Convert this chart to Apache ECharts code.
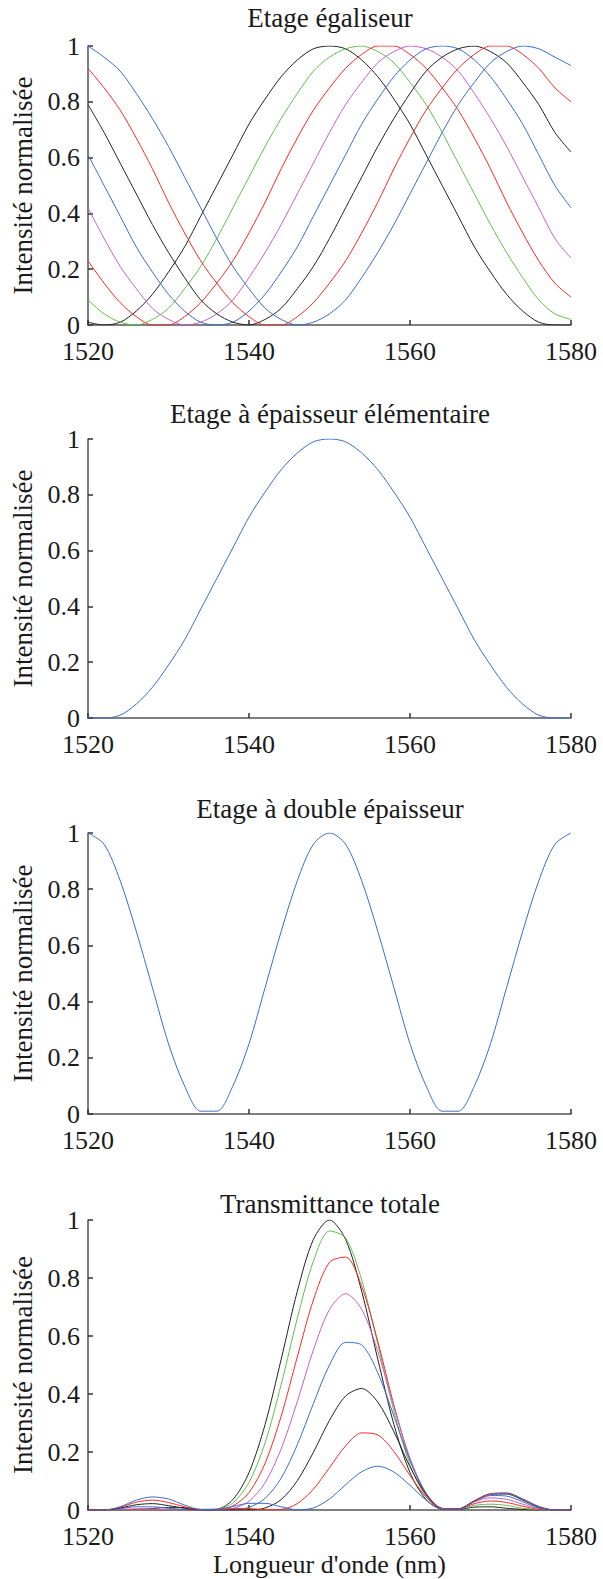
<!DOCTYPE html>
<html>
<head>
<meta charset="utf-8">
<script src="https://cdn.jsdelivr.net/npm/echarts@6.0.0/dist/echarts.min.js"></script>
<style>
  html, body { margin: 0; padding: 0; background: #ffffff; }
  #chart { width: 603px; height: 1579px; }
</style>
</head>
<body>
<div id="chart"></div>
<script>
// longueurs d'onde (nm), pas de 2 nm
const wavelength = [1520, 1522, 1524, 1526, 1528, 1530, 1532, 1534, 1536, 1538, 1540,
  1542, 1544, 1546, 1548, 1550, 1552, 1554, 1556, 1558, 1560,
  1562, 1564, 1566, 1568, 1570, 1572, 1574, 1576, 1578, 1580];

const titles = ['Etage égaliseur', 'Etage à épaisseur élémentaire', 'Etage à double épaisseur', 'Transmittance totale'];
const xTicks = [1520, 1540, 1560, 1580];
const yTicks = [0, 0.2, 0.4, 0.6, 0.8, 1];

// Etage égaliseur : 8 courbes
const egal1 = [0.01, 0.00, 0.01, 0.05, 0.11, 0.19, 0.28, 0.39, 0.50, 0.61, 0.72, 0.81, 0.89, 0.95, 0.99, 1.00, 0.99, 0.95, 0.89, 0.81, 0.72, 0.61, 0.50, 0.39, 0.28, 0.19, 0.11, 0.05, 0.01, 0.00, 0.00];
const egal2 = [0.09, 0.04, 0.01, 0.00, 0.02, 0.06, 0.13, 0.21, 0.31, 0.42, 0.53, 0.64, 0.74, 0.83, 0.91, 0.96, 0.99, 1.00, 0.98, 0.94, 0.87, 0.79, 0.69, 0.58, 0.47, 0.36, 0.26, 0.17, 0.09, 0.04, 0.02];
const egal3 = [0.23, 0.15, 0.08, 0.03, 0.00, 0.00, 0.03, 0.08, 0.15, 0.23, 0.33, 0.44, 0.56, 0.67, 0.77, 0.85, 0.92, 0.97, 1.00, 1.00, 0.97, 0.92, 0.85, 0.77, 0.67, 0.56, 0.44, 0.33, 0.23, 0.15, 0.10];
const egal4 = [0.42, 0.31, 0.21, 0.13, 0.06, 0.02, 0.00, 0.01, 0.04, 0.09, 0.17, 0.26, 0.36, 0.47, 0.58, 0.69, 0.79, 0.87, 0.94, 0.98, 1.00, 0.99, 0.96, 0.91, 0.83, 0.74, 0.64, 0.53, 0.42, 0.31, 0.24];
const egal5 = [0.61, 0.50, 0.39, 0.28, 0.19, 0.11, 0.05, 0.01, 0.00, 0.01, 0.05, 0.11, 0.19, 0.28, 0.39, 0.50, 0.61, 0.72, 0.81, 0.89, 0.95, 0.99, 1.00, 0.99, 0.95, 0.89, 0.81, 0.72, 0.61, 0.50, 0.42];
const egal6 = [0.79, 0.69, 0.58, 0.47, 0.36, 0.26, 0.17, 0.09, 0.04, 0.01, 0.00, 0.02, 0.06, 0.13, 0.21, 0.31, 0.42, 0.53, 0.64, 0.74, 0.83, 0.91, 0.96, 0.99, 1.00, 0.98, 0.94, 0.87, 0.79, 0.69, 0.62];
const egal7 = [0.92, 0.85, 0.77, 0.67, 0.56, 0.44, 0.33, 0.23, 0.15, 0.08, 0.03, 0.00, 0.00, 0.03, 0.08, 0.15, 0.23, 0.33, 0.44, 0.56, 0.67, 0.77, 0.85, 0.92, 0.97, 1.00, 1.00, 0.97, 0.92, 0.85, 0.80];
const egal8 = [1.00, 0.96, 0.91, 0.83, 0.74, 0.64, 0.53, 0.42, 0.31, 0.21, 0.13, 0.06, 0.02, 0.00, 0.01, 0.04, 0.09, 0.17, 0.26, 0.36, 0.47, 0.58, 0.69, 0.79, 0.87, 0.94, 0.98, 1.00, 0.99, 0.96, 0.93];

// Etage à épaisseur élémentaire
const elementaire = [0.00, 0.00, 0.01, 0.05, 0.11, 0.19, 0.28, 0.39, 0.50, 0.61, 0.72, 0.81, 0.89, 0.95, 0.99, 1.00, 0.99, 0.95, 0.89, 0.81, 0.72, 0.61, 0.50, 0.39, 0.28, 0.19, 0.11, 0.05, 0.01, 0.00, 0.00];

// Etage à double épaisseur
const double = [1.00, 0.96, 0.83, 0.65, 0.45, 0.25, 0.10, 0.01, 0.01, 0.10, 0.25, 0.45, 0.65, 0.83, 0.96, 1.00, 0.96, 0.83, 0.65, 0.45, 0.25, 0.10, 0.01, 0.01, 0.10, 0.25, 0.45, 0.65, 0.83, 0.96, 1.00];

// Transmittance totale : 8 courbes
const total1 = [0, 0, 0.000, 0.002, 0.005, 0.009, 0.008, 0.002, 0.003, 0.036, 0.129, 0.295, 0.520, 0.754, 0.933, 1.000, 0.933, 0.754, 0.520, 0.295, 0.129, 0.036, 0.003, 0.002, 0.010, 0.011, 0.006, 0.002, 0.000, 0, 0];
const total2 = [0, 0, 0.000, 0.000, 0.001, 0.003, 0.003, 0.001, 0.002, 0.024, 0.095, 0.232, 0.433, 0.661, 0.858, 0.962, 0.938, 0.793, 0.572, 0.341, 0.156, 0.046, 0.004, 0.003, 0.016, 0.020, 0.016, 0.006, 0.001, 0, 0];
const total3 = [0, 0, 0.001, 0.001, 0.000, 0.000, 0.001, 0.000, 0.001, 0.014, 0.060, 0.161, 0.324, 0.528, 0.724, 0.854, 0.872, 0.771, 0.581, 0.362, 0.174, 0.054, 0.005, 0.003, 0.022, 0.031, 0.026, 0.013, 0.002, 0, 0];
const total4 = [0, 0, 0.002, 0.004, 0.003, 0.001, 0.000, 0.000, 0.000, 0.005, 0.030, 0.094, 0.211, 0.374, 0.552, 0.691, 0.746, 0.692, 0.547, 0.356, 0.179, 0.058, 0.005, 0.004, 0.028, 0.042, 0.037, 0.020, 0.005, 0, 0];
const total5 = [0, 0, 0.005, 0.011, 0.011, 0.006, 0.001, 0.000, 0.000, 0.001, 0.009, 0.040, 0.110, 0.225, 0.367, 0.500, 0.578, 0.569, 0.473, 0.324, 0.170, 0.058, 0.006, 0.004, 0.031, 0.050, 0.048, 0.028, 0.007, 0, 0];
const total6 = [0, 0, 0.007, 0.018, 0.022, 0.015, 0.006, 0.000, 0.000, 0.000, 0.000, 0.007, 0.036, 0.101, 0.199, 0.309, 0.393, 0.419, 0.372, 0.270, 0.149, 0.053, 0.005, 0.004, 0.032, 0.055, 0.055, 0.034, 0.010, 0, 0];
const total7 = [0, 0, 0.010, 0.027, 0.034, 0.026, 0.011, 0.001, 0.001, 0.005, 0.005, 0.001, 0.002, 0.022, 0.072, 0.146, 0.221, 0.266, 0.259, 0.202, 0.119, 0.045, 0.005, 0.004, 0.031, 0.056, 0.059, 0.038, 0.012, 0, 0];
const total8 = [0, 0, 0.011, 0.034, 0.045, 0.038, 0.017, 0.002, 0.002, 0.012, 0.023, 0.023, 0.011, 0.001, 0.007, 0.038, 0.087, 0.132, 0.151, 0.131, 0.085, 0.034, 0.004, 0.003, 0.029, 0.053, 0.058, 0.038, 0.012, 0, 0];

const curveColors = ['#222222', '#62bf4c', '#ff2626', '#c462c4', '#3b6dc7', '#222222', '#ff2626', '#3b6dc7'];

const panels = [
  [egal1, egal2, egal3, egal4, egal5, egal6, egal7, egal8],
  [elementaire],
  [double],
  [total1, total2, total3, total4, total5, total6, total7, total8]
];

const font = 'Liberation Serif';
const grids = [
  { left: 88, right: 32, top: 46, height: 279 },
  { left: 88, right: 32, top: 439, height: 279 },
  { left: 88, right: 32, top: 833, height: 281 },
  { left: 88, right: 32, top: 1220, height: 290 }
];
const titleY = [18, 414, 809, 1204];

let xAxis = [], yAxis = [], series = [], graphic = [];
grids.forEach((g, i) => {
  xAxis.push({
    type: 'value', gridIndex: i,
    min: xTicks[0], max: xTicks[xTicks.length - 1], interval: 20,
    axisLine: { lineStyle: { color: '#555', width: 1.5 } },
    axisTick: { inside: true, length: 5, lineStyle: { color: '#333', width: 1.5 } },
    axisLabel: { fontFamily: font, fontSize: 26, lineHeight: 20, color: '#1a1a1a', margin: 16, formatter: v => String(v) },
    splitLine: { show: false },
    name: i === 3 ? "Longueur d'onde (nm)" : '',
    nameLocation: 'middle', nameGap: 41,
    nameTextStyle: { fontFamily: font, fontSize: 26, color: '#1a1a1a' }
  });
  yAxis.push({
    type: 'value', gridIndex: i,
    min: yTicks[0], max: yTicks[yTicks.length - 1], interval: 0.2,
    axisLine: { show: true, lineStyle: { color: '#555', width: 1.5 } },
    axisTick: { show: true, inside: true, length: 5, lineStyle: { color: '#333', width: 1.5 } },
    axisLabel: { fontFamily: font, fontSize: 26, lineHeight: 20, color: '#1a1a1a', margin: 8 },
    splitLine: { show: false },
    name: 'Intensité normalisée',
    nameLocation: 'middle', nameGap: 52, nameRotate: 90,
    nameTextStyle: { fontFamily: font, fontSize: 27, color: '#1a1a1a' }
  });
  panels[i].forEach((curve, k) => {
    const c = panels[i].length === 1 ? '#3b6dc7' : curveColors[k];
    series.push({
      type: 'line', xAxisIndex: i, yAxisIndex: i,
      data: wavelength.map((w, j) => [w, curve[j]]),
      showSymbol: false, smooth: 0.3,
      lineStyle: { width: 1, color: c },
      itemStyle: { color: c }
    });
  });
  graphic.push({
    type: 'text', x: 330, y: titleY[i],
    style: {
      text: titles[i], fontFamily: font, fontSize: 27, fill: '#1a1a1a',
      textAlign: 'center', textVerticalAlign: 'middle', align: 'center', verticalAlign: 'middle'
    }
  });
});

const myChart = echarts.init(document.getElementById('chart'), null, { renderer: 'svg' });
myChart.setOption({
  animation: false,
  backgroundColor: '#ffffff',
  grid: grids,
  xAxis: xAxis,
  yAxis: yAxis,
  series: series,
  graphic: graphic
});
</script>
</body>
</html>
